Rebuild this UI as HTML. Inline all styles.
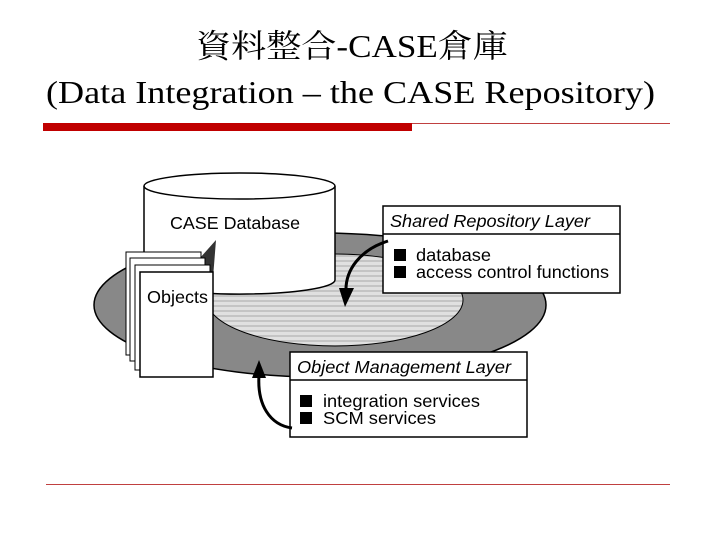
<!DOCTYPE html>
<html><head><meta charset="utf-8"><style>
html,body{margin:0;padding:0;background:#fff;width:717px;height:538px;overflow:hidden}
svg{display:block}
</style></head><body>
<svg width="717" height="538" viewBox="0 0 717 538" xmlns="http://www.w3.org/2000/svg">
<defs>
<pattern id="stripe" width="4" height="5" patternUnits="userSpaceOnUse">
<rect width="4" height="5" fill="#e0e0e0"/><rect width="4" height="2" fill="#c4c4c4"/>
</pattern>
</defs>
<text x="196" y="57" textLength="312" lengthAdjust="spacingAndGlyphs" font-family="Liberation Serif, Noto Serif CJK SC, serif" font-size="32">資料整合-CASE倉庫</text>
<text x="46" y="103" textLength="609" lengthAdjust="spacingAndGlyphs" font-family="Liberation Serif, serif" font-size="32">(Data Integration – the CASE Repository)</text>
<rect x="43" y="123" width="369" height="8" fill="#c00000"/>
<line x1="412" y1="123.5" x2="670" y2="123.5" stroke="#c04040" stroke-width="1"/>
<line x1="46" y1="484.5" x2="670" y2="484.5" stroke="#c04040" stroke-width="1"/>

<ellipse cx="320" cy="305" rx="226" ry="72" fill="#888" stroke="#000" stroke-width="1.5"/>
<ellipse cx="335" cy="300" rx="128" ry="46" fill="url(#stripe)" stroke="#000" stroke-width="1"/>
<path d="M144 186 V280 A95 14 0 0 0 335 280 V186" fill="#fff" stroke="#000" stroke-width="1.5"/>
<ellipse cx="239.5" cy="186" rx="95.5" ry="13" fill="#fff" stroke="#000" stroke-width="1.5"/>
<text x="170" y="229" textLength="130" lengthAdjust="spacingAndGlyphs" font-family="Liberation Sans, sans-serif" font-size="17.5">CASE Database</text>
<polygon points="200,258 216,240 213,278 200,278" fill="#333"/>
<rect x="126" y="252" width="75" height="103" fill="#fff" stroke="#000"/>
<rect x="130" y="258" width="75" height="103" fill="#fff" stroke="#000"/>
<rect x="135" y="265" width="75" height="105" fill="#fff" stroke="#000"/>
<rect x="140" y="272" width="73" height="105" fill="#fff" stroke="#000" stroke-width="1.5"/>
<text x="147" y="303" textLength="61" lengthAdjust="spacingAndGlyphs" font-family="Liberation Sans, sans-serif" font-size="17.5">Objects</text>
<rect x="383" y="206" width="237" height="87" fill="#fff" stroke="#000" stroke-width="1.5"/>
<line x1="383" y1="234" x2="620" y2="234" stroke="#000" stroke-width="1.5"/>
<text x="390" y="227" textLength="200" lengthAdjust="spacingAndGlyphs" font-family="Liberation Sans, sans-serif" font-size="17.5" font-style="italic">Shared Repository Layer</text>
<rect x="394" y="249" width="12" height="12" fill="#000"/>
<rect x="394" y="266" width="12" height="12" fill="#000"/>
<text x="416" y="261" textLength="75" lengthAdjust="spacingAndGlyphs" font-family="Liberation Sans, sans-serif" font-size="17.5">database</text>
<text x="416" y="278" textLength="193" lengthAdjust="spacingAndGlyphs" font-family="Liberation Sans, sans-serif" font-size="17.5">access control functions</text>
<rect x="290" y="352" width="237" height="85" fill="#fff" stroke="#000" stroke-width="1.5"/>
<line x1="290" y1="380" x2="527" y2="380" stroke="#000" stroke-width="1.5"/>
<text x="297" y="373" textLength="214" lengthAdjust="spacingAndGlyphs" font-family="Liberation Sans, sans-serif" font-size="17.5" font-style="italic">Object Management Layer</text>
<rect x="300" y="395" width="12" height="12" fill="#000"/>
<rect x="300" y="412" width="12" height="12" fill="#000"/>
<text x="323" y="407" textLength="157" lengthAdjust="spacingAndGlyphs" font-family="Liberation Sans, sans-serif" font-size="17.5">integration services</text>
<text x="323" y="424" textLength="113" lengthAdjust="spacingAndGlyphs" font-family="Liberation Sans, sans-serif" font-size="17.5">SCM services</text>
<path d="M388 241 C360 250 345 270 346 292" fill="none" stroke="#000" stroke-width="3"/>
<polygon points="339,288 354,288 345,307" fill="#000"/>
<path d="M292 428 C270 425 257 405 259 375" fill="none" stroke="#000" stroke-width="3"/>
<polygon points="252,378 266,378 259,360" fill="#000"/>
</svg>
</body></html>
